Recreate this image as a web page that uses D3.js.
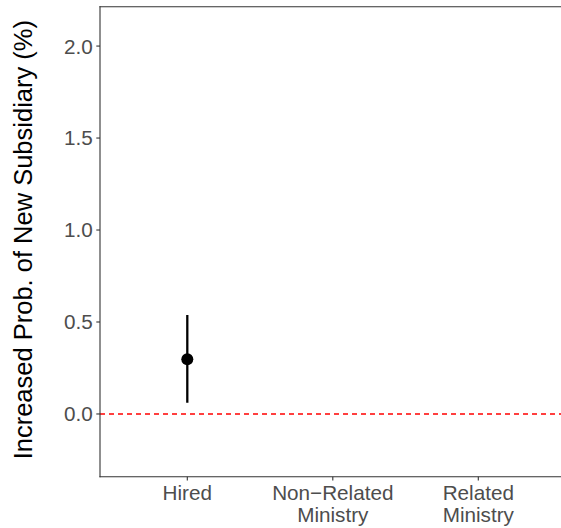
<!DOCTYPE html>
<meta charset="utf-8">
<style>
body { margin: 0; background: #fff; overflow: hidden; }
svg { display: block; font-family: "Liberation Sans", Arial, sans-serif; }
.tick-lab { fill: #4d4d4d; font-size: 20.7px; }
</style>
<body>
<script src="https://cdn.jsdelivr.net/npm/d3@7"></script>
<script>

// categories on the x axis (second line of a label after "|")
var categories = ["Hired", "Non\u2212Related|Ministry", "Related|Ministry"];

// point estimates and confidence bounds (NA for missing)
var estimates = [0.297, null, null];
var lower     = [0.061, null, null];
var upper     = [0.538, null, null];

var yTicks = [0.0, 0.5, 1.0, 1.5, 2.0];
var yLabel = "Increased Prob. of New Subsidiary (%)";

var width = 561, height = 528;
var panel = { left: 100, top: 6.7, right: 565.6, bottom: 476.7 };

var svg = d3.select("body").append("svg")
    .attr("width", width)
    .attr("height", height);

var x = d3.scalePoint()
    .domain(categories)
    .range([panel.left, panel.right])
    .padding(0.6);

var y = d3.scaleLinear()
    .domain([-0.341, 2.214])
    .range([panel.bottom, panel.top]);

// zero reference line
svg.append("line")
    .attr("x1", panel.left).attr("x2", width)
    .attr("y1", y(0)).attr("y2", y(0))
    .attr("stroke", "#ff0000")
    .attr("stroke-width", 1.4)
    .attr("stroke-dasharray", "5,4");

// error bars and points
var data = categories.map(function(c, i) {
  return { cat: c, est: estimates[i], lo: lower[i], hi: upper[i] };
}).filter(function(d) { return d.est !== null; });

svg.selectAll(".err")
    .data(data)
    .enter().append("line")
    .attr("x1", function(d) { return x(d.cat); })
    .attr("x2", function(d) { return x(d.cat); })
    .attr("y1", function(d) { return y(d.lo); })
    .attr("y2", function(d) { return y(d.hi); })
    .attr("stroke", "#000")
    .attr("stroke-width", 2.3);

svg.selectAll(".pt")
    .data(data)
    .enter().append("circle")
    .attr("cx", function(d) { return x(d.cat); })
    .attr("cy", function(d) { return y(d.est); })
    .attr("r", 6)
    .attr("fill", "#000");

// panel border (right edge falls outside the window)
var border = [
  [panel.left, panel.top, width, panel.top],
  [panel.left, panel.top, panel.left, panel.bottom],
  [panel.left, panel.bottom, width, panel.bottom]
];
svg.selectAll(".border")
    .data(border)
    .enter().append("line")
    .attr("x1", function(d) { return d[0]; })
    .attr("y1", function(d) { return d[1]; })
    .attr("x2", function(d) { return d[2]; })
    .attr("y2", function(d) { return d[3]; })
    .attr("stroke", "#333")
    .attr("stroke-width", 1.1)
    .attr("stroke-linecap", "square");

// y axis ticks
var yt = svg.selectAll(".ytick")
    .data(yTicks)
    .enter().append("g")
    .attr("transform", function(d) { return "translate(0," + y(d) + ")"; });

yt.append("line")
    .attr("x1", panel.left - 3.7).attr("x2", panel.left)
    .attr("stroke", "#333").attr("stroke-width", 1.1);

yt.append("text")
    .attr("class", "tick-lab")
    .attr("x", panel.left - 7.3)
    .attr("dy", "0.36em")
    .attr("text-anchor", "end")
    .text(function(d) { return d3.format(".1f")(d); });

// x axis ticks
var xt = svg.selectAll(".xtick")
    .data(categories)
    .enter().append("g")
    .attr("transform", function(d) { return "translate(" + x(d) + "," + panel.bottom + ")"; });

xt.append("line")
    .attr("y1", 0).attr("y2", 3.7)
    .attr("stroke", "#333").attr("stroke-width", 1.1);

xt.append("text")
    .attr("class", "tick-lab")
    .attr("text-anchor", "middle")
    .selectAll("tspan")
    .data(function(d) { return d.split("|"); })
    .enter().append("tspan")
    .attr("x", 0)
    .attr("y", function(d, i) { return 23 + i * 22.7; })
    .text(function(d) { return d; });

// y axis title
svg.append("text")
    .attr("transform", "translate(31.7," + ((panel.top + panel.bottom) / 2 - 2) + ") rotate(-90)")
    .attr("text-anchor", "middle")
    .style("font-size", "25.5px")
    .style("fill", "#000")
    .text(yLabel);

</script>
</body>
